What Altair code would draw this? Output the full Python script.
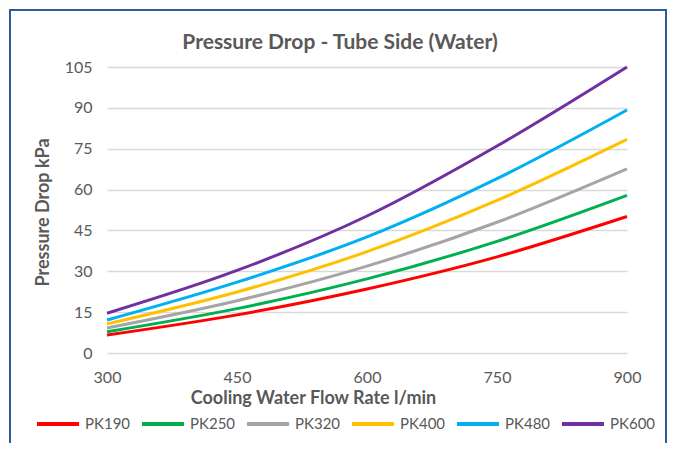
import altair as alt
import pandas as pd

flow = [300, 450, 600, 750, 900]
pk190 = [6.6, 14.0, 23.5, 35.3, 50.1]
pk250 = [7.8, 16.3, 27.2, 41.0, 57.9]
pk320 = [9.2, 19.2, 31.9, 48.0, 67.6]
pk400 = [10.7, 22.4, 37.2, 56.0, 78.4]
pk480 = [12.1, 26.0, 42.6, 64.0, 89.2]
pk600 = [14.6, 30.3, 50.3, 76.0, 105.0]

series = ["PK190", "PK250", "PK320", "PK400", "PK480", "PK600"]
colors = ["#FF0000", "#00B050", "#A5A5A5", "#FFC000", "#00B0F0", "#7030A0"]
x_ticks = [300, 450, 600, 750, 900]
y_ticks = [0, 15, 30, 45, 60, 75, 90, 105]
title_text = "Pressure Drop - Tube Side (Water)"

rows = []
for name, vals in zip(series, [pk190, pk250, pk320, pk400, pk480, pk600]):
    for f, v in zip(flow, vals):
        rows.append({"flow": f, "dp": v, "series": name})
df = pd.DataFrame(rows)

W, H = 520, 286
PL, PR, PT, PB = 99, 41, 59, 90
FONT = "Lato"
GREY = "#595959"

lines = alt.Chart(df).mark_line(strokeWidth=3, interpolate="monotone").encode(
    x=alt.X("flow:Q",
            scale=alt.Scale(domain=[300, 900], nice=False, zero=False),
            axis=alt.Axis(values=x_ticks, title="Cooling Water Flow Rate l/min",
                          grid=False, ticks=False, domain=False, labelFlush=False,
                          labelFontSize=16, labelColor=GREY, labelFont=FONT,
                          labelPadding=16,
                          titleFont=FONT, titleFontSize=18, titleFontWeight="bold",
                          titleColor=GREY, titleX=206, titleY=45,
                          titleBaseline="middle", titleAlign="center")),
    y=alt.Y("dp:Q",
            scale=alt.Scale(domain=[0, 105], nice=False),
            axis=alt.Axis(values=y_ticks, title="Pressure Drop kPa",
                          grid=True, gridColor="#D9D9D9", gridWidth=1.5,
                          ticks=False, domain=False,
                          labelFontSize=16, labelColor=GREY, labelFont=FONT,
                          labelPadding=15,
                          titleFont=FONT, titleFontSize=18, titleFontWeight="bold",
                          titleColor=GREY, titleX=-64, titleY=145,
                          titleBaseline="middle", titleAlign="center", titleAngle=-90)),
    color=alt.Color("series:N",
                    scale=alt.Scale(domain=series, range=colors),
                    legend=alt.Legend(orient="none", direction="horizontal",
                                      legendX=-72, legendY=334, title=None,
                                      symbolType="M-1,0L1,0", symbolSize=1764,
                                      symbolStrokeWidth=4, labelOffset=4,
                                      columnPadding=3, labelFontSize=15,
                                      labelColor=GREY, labelFont=FONT,
                                      columns=6)),
)

title = alt.Chart(pd.DataFrame({"t": [title_text]})).mark_text(
    font=FONT, fontSize=21, fontWeight="bold", color=GREY,
    align="center", baseline="middle"
).encode(text="t:N", x=alt.value(233), y=alt.value(-24))

border = alt.Chart(pd.DataFrame({"a": [0]})).mark_rect(
    fill=None, stroke="#2E5C9E", strokeWidth=2
).encode(
    x=alt.value(-PL + 2), x2=alt.value(W + PR - 2),
    y=alt.value(-PT + 2), y2=alt.value(H + PB + 10),
)

chart = alt.layer(lines, title, border).properties(
    width=W, height=H,
    autosize=alt.AutoSizeParams(type="none"),
    padding={"left": PL, "right": PR, "top": PT, "bottom": PB},
    background="white",
).configure_view(stroke=None)

chart.save("out.html", embed_options={"renderer": "svg", "actions": False})
